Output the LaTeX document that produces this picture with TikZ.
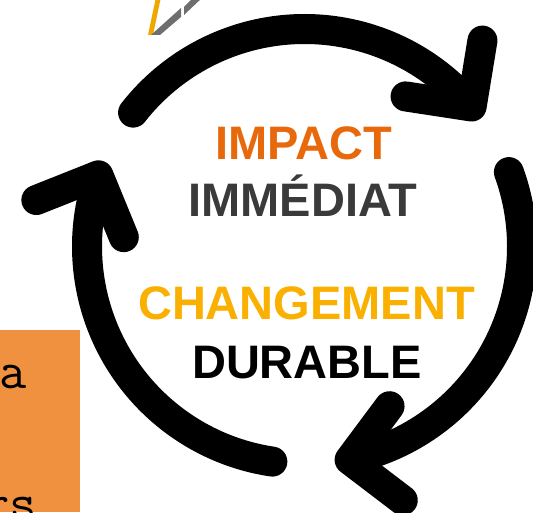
\documentclass[tikz,border=0pt]{standalone}
\usepackage{fontspec}
\setmainfont{Liberation Sans}
\usetikzlibrary{arrows.meta,bending}
\definecolor{orangeimpact}{HTML}{E8690B}
\definecolor{grisfonce}{HTML}{3A3A3A}
\definecolor{jaunechange}{HTML}{FAB000}
\definecolor{orangeboite}{HTML}{F0913F}
\definecolor{jaunelogo}{HTML}{F0A800}
\definecolor{grislogo}{HTML}{6E6E6E}

\begin{document}
\begin{tikzpicture}[
    x=1pt, y=1pt,
    every node/.style={font=\fontsize{47}{50}\selectfont\bfseries, inner sep=0pt}
  ]

  \tikzset{
    fleche/.style={line width=30pt, line cap=round, -{Straight Barb[length=47pt, width=95pt, round, flex]}},
    titre/.style={anchor=base},
    bout/.style={anchor=base east, font=\ttfamily\fontsize{53}{60}\selectfont}
  }

  \clip (0,0) rectangle (533,512);

  % logo en haut
  \fill[jaunelogo] (156,515) -- (161,515) -- (153,477) -- (148,477) -- cycle;
  \fill[grislogo] (151,477) -- (160,477) -- (181,495) -- (181,504) -- cycle;
  \fill[grislogo] (184,497) -- (184,505) -- (194,515) -- (203,515) -- cycle;

  % boite orange
  \fill[orangeboite] (0,0) rectangle (80,182);
  \node[bout] (ligneA) at (27,124) {a};
  \node[bout] (ligneB) at (37,-8) {rs};

  % cycle
  \coordinate (centre) at (304.5,265.5);
  \draw[fleche] ([shift={(142:217.5)}]centre) arc[start angle=142, end angle=36, radius=217.5];
  \draw[fleche] ([shift={(20:217.5)}]centre) arc[start angle=20, end angle=-82, radius=217.5];
  \draw[fleche] ([shift={(261.5:217.5)}]centre) arc[start angle=261.5, end angle=157, radius=217.5];

  % texte
  \node[titre, text=orangeimpact] (impact) at (303.5,352) {IMPACT};
  \node[titre, text=grisfonce] (immediat) at (303,295) {IMMÉDIAT};
  \node[titre, text=jaunechange] (changement) at (306.5,192) {CHANGEMENT};
  \node[titre] (durable) at (307,134) {DURABLE};

\end{tikzpicture}
\end{document}
